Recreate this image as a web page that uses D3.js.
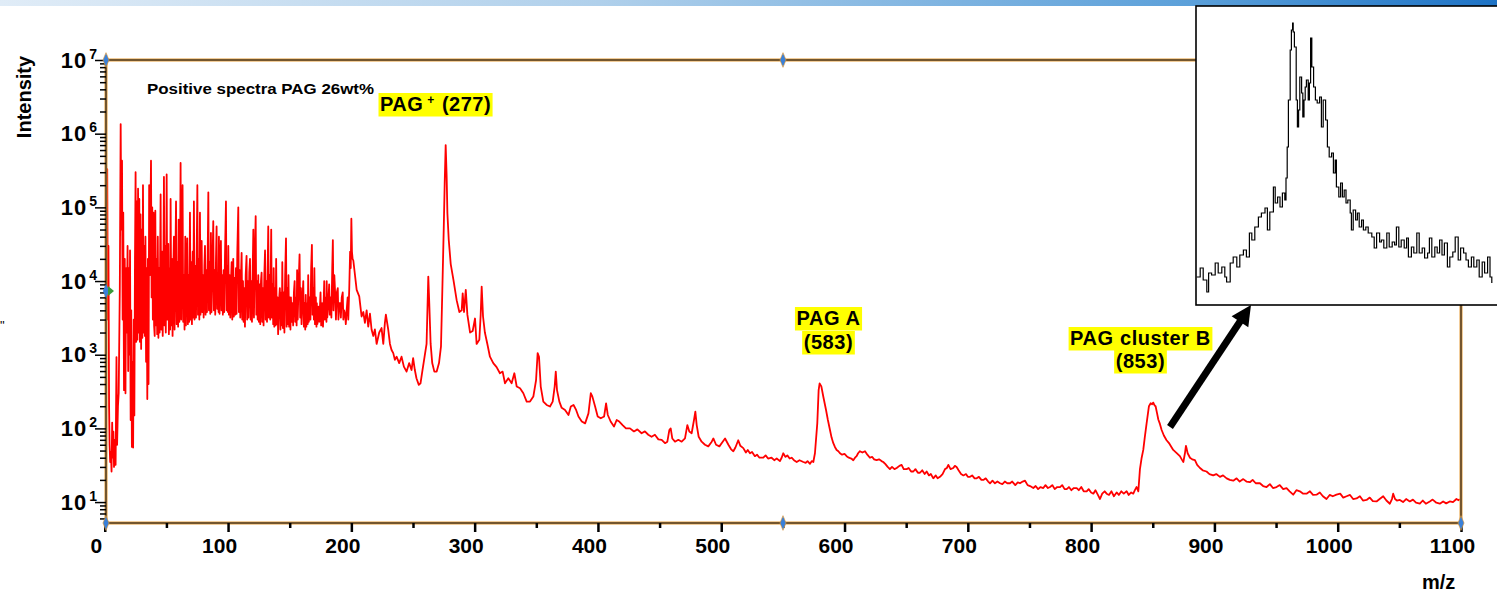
<!DOCTYPE html>
<html lang="en">
<head>
<meta charset="UTF-8" />
<title>Positive spectra PAG 26wt%</title>
<script src="https://d3js.org/d3.v7.min.js"></script>
<style>
  html, body { margin: 0; padding: 0; background: #fff; }
  svg { display: block; }
  text { font-family: "Liberation Sans", Arial, sans-serif; font-weight: bold; fill: #000; }
</style>
</head>
<body>
<div id="chart"></div>
<script>
// [m/z, intensity]
const lowMass = [
  [1.2, 2e4], [2.0, 3.3e5], [2.5, 3e3], [3.0, 3e4], [3.5, 200], [3.9, 60], [4.4, 35], [5.0, 48], [5.5, 26],
  [6.0, 120], [6.5, 40], [7.0, 90], [7.5, 30], [8.2, 70], [8.8, 32], [9.5, 930], [10.0, 60], [10.7, 200],
  [11.3, 300], [12.2, 8e3], [12.9, 1.35e6], [13.4, 5e4], [14.0, 4.3e5], [14.5, 3e3], [15.0, 8.5e4],
  [15.6, 330], [16.2, 2e4], [16.8, 300], [17.3, 1.5e4], [17.8, 2e3], [18.5, 3e4], [19.0, 600], [19.5, 1.5e4],
  [20.0, 1e3], [20.5, 2.6e4], [21.0, 130], [21.5, 4e3], [22.0, 56], [22.5, 800], [23.0, 55], [23.5, 3e3],
  [24.0, 150], [24.5, 2e4], [25.0, 3e5], [25.5, 1.5e3], [26.0, 1.2e5], [26.5, 1.6e3], [27.0, 1.8e5],
  [27.5, 2e3], [28.0, 1.3e5], [28.5, 1.5e3], [29.0, 8e4], [29.5, 1.2e3], [30.0, 5e4], [30.5, 1.7e3],
  [31.0, 2e5], [31.5, 2e3], [32.0, 3e4], [32.5, 1.8e3], [33.0, 4e4], [33.5, 800], [34.0, 1.5e4], [34.5, 250],
  [35.0, 2e4], [35.5, 400], [36.0, 2e5], [36.5, 1.2e4], [37.5, 4.3e5], [38.0, 6e3], [38.5, 1e5], [39.0, 3e3],
  [39.5, 8.5e4], [40.0, 2.5e3]
];

const midMass = [
  [40.5, 1.8e3], [41, 9e4], [41.5, 2.5e3], [42, 2e4], [42.5, 1.9e3], [43, 4e4], [43.5, 1.7e3], [44, 1.5e4],
  [44.5, 2e3], [45.3, 1.5e5], [45.8, 2.2e3], [46.5, 2.5e4], [47, 1.8e3], [47.5, 1.2e4], [48, 2.6e5],
  [48.5, 2.5e3], [49, 3e4], [49.5, 2e3], [50.2, 2.8e5], [50.7, 3e3], [51.5, 3.2e4], [52, 1.9e3], [52.5, 1.5e4],
  [53, 2.2e3], [53.4, 1.3e5], [54, 2.5e3], [54.5, 2e4], [55, 1.8e3], [55.5, 1.2e4], [56.1, 4e4], [56.6, 2.2e3],
  [57.2, 1.5e4], [57.8, 1.2e5], [58.3, 2.6e3], [59, 1.8e4], [59.5, 2.4e3], [59.9, 6.8e4], [60.5, 2.8e3],
  [61, 1.5e4], [61.5, 4e5], [62, 3e3], [62.5, 2.5e4], [63.1, 2e5], [63.6, 2.8e3], [64.2, 1.2e4], [64.7, 2.2e3],
  [65.3, 4e4], [65.8, 2.5e3], [66.4, 1.5e4], [66.9, 3.8e4], [67.4, 2.6e3], [68, 1.2e4], [68.5, 2.8e3],
  [69.1, 8.5e4], [69.6, 3e3], [70.2, 1.8e4], [70.7, 2.6e3], [71.3, 2.5e4], [71.8, 3.2e3], [72.3, 1.2e5],
  [72.8, 3e3], [73.5, 1.6e4], [74, 3.2e3], [74.6, 2.8e4], [75.1, 2e5], [75.6, 3.5e3], [76.2, 2e4], [76.7, 3e3],
  [77.2, 8.5e4], [77.7, 3.5e3], [78.2, 1.5e4], [78.6, 3.5e4], [79.1, 3.8e3], [79.7, 1.2e4], [80.2, 3.2e3],
  [80.8, 1.6e4], [81.3, 3e4], [81.8, 3.5e3], [82.4, 1.4e4], [82.9, 3.8e3], [83.5, 2.5e4], [84, 1.6e5],
  [84.5, 4e3], [85.1, 1.8e4], [85.6, 3.6e3], [86.1, 4.5e4], [86.6, 3.8e3], [87.3, 1.5e4], [88, 6.5e4],
  [88.5, 4e3], [89.1, 1.4e4], [89.6, 3.5e3], [90.2, 2e4], [90.7, 5.5e4], [91.2, 4.2e3], [91.8, 1.2e4],
  [92.3, 3.8e3], [92.6, 4e4], [93.1, 3.6e3], [93.7, 1.5e4], [94.2, 3.5e4], [94.7, 4e3], [95.3, 1.2e4],
  [95.8, 3.5e3], [96.4, 1.4e4], [96.9, 3.8e3], [97.5, 2.2e4], [98.3, 1.2e5], [98.8, 4e3], [99.4, 1.6e4],
  [99.9, 3.8e3], [100.2, 3e4], [100.7, 3.5e3], [101.3, 1.2e4], [101.8, 3.2e3], [102.4, 1e4], [102.9, 1.8e4],
  [103.4, 3e3], [104.2, 2e4], [104.7, 3.3e3], [105.3, 1.1e4], [105.8, 3.5e3], [106.4, 1.5e4], [106.9, 3.6e3],
  [107.5, 2.5e4], [108.3, 1e5], [108.8, 3.8e3], [109.4, 1.4e4], [109.9, 3.2e3], [110.5, 1.2e4], [111, 2.4e4],
  [111.5, 3e3], [112.1, 1e4], [112.6, 2.8e3], [113.2, 8e3], [113.7, 2.4e3], [114.3, 1.2e4], [115, 2.2e4],
  [115.5, 3e3], [116.1, 1e4], [116.6, 3.2e3], [117.2, 1.3e4], [117.8, 2e4], [118.3, 3e3], [118.9, 1e4],
  [119.4, 2.8e3], [120, 1.5e4], [120.5, 5e4], [121, 3.2e3], [121.6, 1.8e4], [122.4, 7.6e4], [122.9, 3.5e3],
  [123.5, 1e4], [124, 3e3], [124.5, 1.2e4], [125, 2.8e3], [125.6, 9e3], [126.1, 2.6e3], [126.7, 1e4],
  [127.2, 1.3e4], [127.7, 2.8e3], [128.3, 8e3], [128.8, 2.5e3], [129.4, 1.2e4], [130, 2.6e4], [130.5, 3e3],
  [131.1, 1e4], [131.6, 2.8e3], [132.1, 1.4e4], [132.6, 5.5e4], [133.1, 3.2e3], [133.7, 1.2e4], [134.2, 3e3],
  [135, 5e4], [135.5, 3.2e3], [136.1, 9e3], [136.6, 2.6e3], [137, 1.5e4], [137.5, 2.4e3], [138.1, 8e3],
  [138.6, 2.5e3], [139, 2e4], [139.5, 2.6e3], [140.1, 6e3], [140.6, 1.9e3], [141.2, 5e3], [142, 8e3],
  [142.5, 2.2e3], [143.1, 7e3], [143.6, 2.5e3], [144, 1.8e4], [144.5, 2.3e3], [145.2, 7e3], [145.7, 2e3],
  [146.3, 1.2e4], [147, 3.8e4], [147.5, 2.4e3], [148.1, 8e3], [148.6, 2.6e3], [149, 1.2e4], [149.5, 2.4e3],
  [150.1, 6e3], [150.6, 2.2e3], [151, 6e3], [151.5, 2.8e3], [152.2, 5e3], [152.8, 2.5e3], [153.4, 7e3],
  [154, 1e4], [154.5, 2.8e3], [155.1, 6e3], [155.6, 2.5e3], [156, 1.4e4], [156.5, 3e3], [157.2, 9e3],
  [158, 2.3e4], [158.5, 3.2e3], [159.1, 8e3], [159.6, 2.6e3], [160.2, 5e3], [161, 1e4], [161.5, 2.4e3],
  [162.1, 5e3], [162.6, 2.2e3], [163, 6.5e3], [163.5, 2.4e3], [164.1, 5e3], [164.6, 2.6e3], [165, 1.2e4],
  [165.5, 2.8e3], [166.2, 6e3], [166.8, 3e3], [167.4, 1.5e4], [168, 3.1e4], [168.5, 3.5e3], [169.1, 8e3],
  [169.6, 3e3], [170, 1.5e4], [170.5, 2.6e3], [171.2, 6e3], [171.7, 2.4e3], [172, 5e3], [172.5, 2.6e3],
  [173.3, 4.5e3], [174, 2.8e3], [175, 7e3], [175.5, 2.5e3], [176.3, 5e3], [177, 2.4e3], [178, 1e4],
  [178.5, 3e3], [179.3, 6e3], [179.8, 2.8e3], [180, 1e4], [180.5, 3.2e3], [181.3, 5e3], [182, 9e3],
  [182.5, 3.5e3], [183.3, 6e3], [183.8, 3.2e3], [184.5, 1.5e4], [185, 3.6e4], [185.5, 4e3], [186.2, 1.2e4],
  [187, 6e3], [187.5, 3e3], [188.2, 7e3], [189, 8e3], [189.5, 3e3], [190.2, 5e3], [191, 5e3], [191.5, 3.2e3],
  [192.2, 6e3], [193, 7e3], [193.5, 3e3], [194.2, 4e3], [195, 3.5e3], [195.5, 2.6e3], [196.2, 4e3],
  [197, 6e3], [197.5, 3e3], [198.3, 8e3], [199, 2.5e4], [199.5, 1.5e4], [200, 7e4], [200.5, 2.5e4], [201, 2e4]
];

const highMass = [
  [201.6, 1.9e4], [204.3, 7.6e3], [206.4, 6.2e3], [208.3, 3.3e3], [209.7, 3.8e3], [211, 2.7e3], [212.4, 4e3],
  [213.7, 2.4e3], [215.1, 3.6e3], [216.4, 2.2e3], [217.8, 1.8e3], [219.1, 2.2e3], [220.5, 1.4e3], [222.6, 2e3],
  [224.5, 2.3e3], [225.9, 1.4e3], [227.2, 2.7e3], [228, 3.5e3], [229.9, 2.2e3], [231.3, 1.4e3], [232.6, 1.16e3],
  [234, 1.05e3], [235.3, 850], [236.7, 940], [238.8, 770], [240.7, 940], [242.6, 690], [244.8, 590],
  [246.9, 770], [248.8, 620], [250.1, 900], [251.5, 620], [252.8, 480], [254.7, 390], [256.1, 410],
  [257.7, 620], [259.4, 940], [261, 1.4e3], [262.4, 1.15e4], [263.2, 5e3], [264.3, 1.4e3], [265.6, 770],
  [267.3, 590], [269.2, 590], [271.1, 770], [272.7, 1.3e3], [273.8, 7.6e3], [274.9, 4.9e4], [275.7, 2.1e5],
  [276.5, 7e5], [277.3, 2.6e5], [277.9, 8.3e4], [279, 3.6e4], [280.6, 1.7e4], [282.8, 1.04e4], [285.4, 5.5e3],
  [287.6, 3.8e3], [289.5, 4e3], [290.3, 6.8e3], [291.4, 3.8e3], [292.8, 7.6e3], [294.1, 3.5e3], [296.3, 2e3],
  [298.4, 2.1e3], [300.3, 3.1e3], [301.6, 1.4e3], [303.8, 1.6e3], [304.9, 3.5e3], [305.7, 8.4e3],
  [306.8, 3.3e3], [308.3, 2e3], [310.3, 1.4e3], [312.4, 940], [315.1, 770], [317.8, 680], [320.5, 560],
  [322.7, 590], [324.6, 410], [327.3, 480], [330, 410], [332.2, 560], [334.1, 370], [336.8, 350], [339.5, 300],
  [342.2, 231], [344.9, 231], [347.6, 270], [349.8, 450], [351.1, 1.05e3], [352.2, 940], [353.6, 370],
  [355.7, 231], [358.4, 208], [361.1, 198], [363.3, 231], [364.9, 370], [365.8, 590], [366.8, 330],
  [368.7, 231], [370.6, 190], [373.3, 178], [376.1, 152], [378, 198], [380.2, 208], [382.3, 178], [384.2, 145],
  [386.9, 124], [389.6, 117], [392.3, 160], [394.2, 300], [395.5, 270], [397.7, 198], [399.8, 145],
  [402.3, 137], [405, 145], [406.6, 219], [408, 152], [410.3, 124], [413, 106], [415.2, 130], [417.3, 124],
  [420, 111], [422.7, 100], [426, 100], [429.2, 91], [432, 97], [435.4, 86], [438.1, 91], [440.8, 82],
  [443.5, 77], [446.2, 82], [449, 71], [451.7, 70], [454.4, 63], [456.3, 66], [457.9, 95], [459, 100],
  [460.3, 73], [462.5, 66], [465.2, 70], [467.9, 66], [470.6, 73], [472.5, 111], [474.1, 91], [476, 86],
  [477.9, 130], [479, 169], [480.1, 111], [481.7, 77], [484.1, 66], [486.8, 60], [489.5, 57], [492.3, 66],
  [493.6, 73], [495.8, 60], [498.5, 57], [501.2, 66], [503.1, 73], [505.8, 60], [508, 52], [509.8, 49],
  [511.5, 55], [513.8, 69], [515.5, 58], [517.9, 54], [520, 47], [521.5, 51], [523.3, 46], [525, 48],
  [527.3, 42], [529, 44], [531, 40], [534.1, 40], [536, 43], [538, 39], [540.8, 40], [543, 37], [545, 39],
  [547.6, 36], [549, 40], [550.3, 46], [552, 41], [553.6, 43], [555.5, 39], [557.1, 40], [559, 37],
  [561.2, 35], [563.5, 37], [566.6, 35], [568.5, 34], [570, 36], [572, 33], [573.5, 36], [574.7, 35],
  [576, 46], [577.9, 117], [579, 331], [579.8, 407], [581.2, 372], [582.8, 269], [585, 178], [586.5, 130],
  [588.2, 95], [589.5, 75], [590.9, 63], [592.2, 56], [593.6, 51], [595, 49], [596.3, 46], [598, 44],
  [600, 45], [601.7, 42], [603.5, 40], [605.5, 39], [607.1, 37], [608.5, 40], [609.8, 42], [611, 46],
  [612.5, 49], [614.5, 47], [616.6, 49], [618.5, 44], [620.6, 40], [622.5, 41], [624, 38], [626, 37],
  [628, 38], [630, 36], [631.4, 35], [633, 33], [635, 30], [636.8, 28], [638.5, 30], [640.5, 28], [642.3, 29],
  [644.5, 31], [646.3, 32], [648, 28], [650.4, 28], [652, 29], [654, 26], [655.8, 26], [657.5, 28],
  [659.5, 25], [661.2, 25], [663, 27], [665, 24], [666.6, 26], [668.5, 23], [670, 24], [672, 21], [674, 23],
  [675.5, 21], [677.4, 22], [679.5, 24], [681.5, 28], [683, 29], [684.2, 32], [686, 28], [688.2, 29],
  [689.5, 31], [690.9, 30], [692.5, 27], [694.5, 24], [696.4, 23], [698.5, 24], [700, 22], [701.8, 22],
  [703.5, 23], [705.5, 21], [707.2, 21], [709, 22], [711, 20], [712.6, 20], [714.5, 21], [716.5, 19],
  [718, 18], [720, 19.5], [722, 18], [724, 19], [726.1, 18], [728, 17.5], [730, 19], [732, 18], [734.2, 18],
  [736, 19], [738.5, 17], [740.5, 18.5], [742.3, 18], [744.5, 19], [746.4, 19.5], [748.5, 17], [750.5, 16.5],
  [753.1, 15.5], [755, 16.5], [757, 15], [759, 16], [761.2, 15.5], [763, 17], [765, 15.5], [766.7, 16],
  [768.5, 17], [770.5, 15], [772.5, 16], [774.8, 16], [776.5, 17], [778.5, 15], [780.2, 15], [782, 16],
  [784, 14.5], [786, 15.5], [788.3, 15.5], [790, 14.5], [792, 16], [794, 14], [796.4, 14], [798, 15],
  [800, 13.5], [801.8, 13], [803.5, 14.5], [805.5, 12.5], [807.2, 11], [809, 13], [811, 14], [812.6, 13],
  [814.5, 12.5], [816.5, 14], [818.5, 12], [820.7, 13.5], [822.5, 12.5], [824.5, 14], [826.5, 13],
  [828.8, 14], [830.5, 12.5], [832.5, 13.5], [834.2, 13], [835.5, 14.5], [836.9, 16], [838.3, 14],
  [839.6, 28], [841, 40], [842.3, 51], [843.5, 75], [845, 117], [846.9, 200], [848.3, 219], [849.5, 212],
  [850.4, 224], [851.5, 205], [852.3, 200], [853.5, 160], [854.5, 132], [855.8, 115], [857.2, 95], [859, 80],
  [861.2, 69], [863.5, 62], [866.6, 51], [869, 47], [872, 42], [873.5, 38], [874.8, 35], [876.1, 46],
  [876.9, 58], [877.6, 52], [878.3, 46], [880.2, 40], [882, 38], [884.2, 37], [886, 32], [888.3, 29],
  [890.5, 27], [893.6, 26], [896, 24], [899, 23], [901.5, 24], [904.5, 22], [907, 23], [909.9, 21],
  [912.5, 20], [915.3, 19.5], [918, 21], [920.5, 19], [923.4, 20.5], [926, 19], [928.8, 18.6], [931, 20],
  [933.5, 18], [936.9, 18], [939.5, 16.5], [942.3, 16], [945, 17.5], [947.5, 15.5], [950.4, 16], [953, 17],
  [955.8, 15], [958.5, 15.5], [961, 14], [963.9, 12.6], [966.5, 14.5], [969.3, 14], [972, 13], [974.7, 13],
  [977.5, 14], [980, 12.5], [982.8, 12.6], [985.5, 13.5], [988, 12], [990.9, 11], [993.5, 12.5], [996, 12],
  [999, 12.6], [1002, 13], [1004.5, 11.5], [1007.2, 12], [1010, 12.5], [1012.5, 11], [1015.3, 11.2],
  [1018, 12], [1020.5, 10.5], [1023.4, 10.7], [1026, 11.5], [1028.5, 10.3], [1031.5, 10.2], [1034, 11],
  [1036.9, 12], [1039.5, 10.5], [1042.3, 9.5], [1044, 11], [1045, 13], [1046.5, 11], [1048, 10.5],
  [1050.4, 10.7], [1053, 10], [1055.5, 11], [1058.5, 10.2], [1061, 10.8], [1063.5, 9.8], [1066.6, 9.5],
  [1069, 10.5], [1071.5, 9.5], [1074.7, 10.2], [1077, 10.8], [1080, 9.8], [1082.8, 9.5], [1085.5, 10.2],
  [1088, 9.6], [1090.9, 10.2], [1093.5, 10], [1096.3, 11], [1098, 10.6], [1099, 11]
];

// inset: zoom on the cluster B peak, [m/z, counts]
const insetTrace = [
  [825.1, 28], [825.7, 37], [826.2, 25], [826.8, 13], [827.1, 32], [827.6, 30], [828.2, 42], [828.7, 32],
  [829.3, 38], [829.8, 28], [830.1, 23], [830.7, 42], [831.2, 48], [831.8, 38], [832.3, 50], [832.9, 55],
  [833.4, 48], [833.9, 72], [834.3, 65], [834.8, 78], [835.4, 88], [835.9, 92], [836.5, 97], [836.9, 75],
  [837.3, 93], [837.9, 118], [838.2, 102], [838.6, 108], [839.0, 98], [839.4, 112], [839.8, 105], [840.0, 127],
  [840.2, 158], [840.4, 205], [840.7, 255], [840.9, 275], [841.1, 282], [841.2, 273], [841.4, 258],
  [841.7, 205], [841.9, 178], [842.1, 195], [842.3, 228], [842.6, 212], [842.8, 188], [843.0, 205],
  [843.2, 218], [843.4, 225], [843.7, 205], [843.9, 222], [844.1, 267], [844.3, 238], [844.6, 218],
  [844.9, 205], [845.2, 202], [845.6, 208], [845.9, 178], [846.2, 205], [846.6, 185], [846.9, 158],
  [847.2, 148], [847.6, 152], [847.9, 132], [848.2, 145], [848.4, 118], [848.8, 108], [849.1, 122],
  [849.4, 108], [849.7, 115], [850.0, 102], [850.3, 105], [850.7, 92], [850.9, 75], [851.2, 95], [851.6, 85],
  [851.9, 92], [852.2, 78], [852.6, 85], [852.9, 75], [853.3, 78], [853.7, 72], [854.3, 68], [854.7, 57],
  [855.1, 72], [855.6, 63], [855.9, 65], [856.3, 57], [856.8, 72], [857.2, 58], [857.7, 63], [858.1, 60],
  [858.4, 78], [858.8, 58], [859.2, 65], [859.7, 57], [860.1, 67], [860.4, 48], [860.9, 58], [861.3, 52],
  [861.8, 72], [862.2, 52], [862.7, 57], [863.1, 47], [863.6, 52], [863.9, 67], [864.3, 48], [864.8, 58],
  [865.2, 52], [865.6, 65], [866.0, 50], [866.4, 62], [866.9, 38], [867.3, 48], [867.8, 53], [868.2, 68],
  [868.7, 45], [869.1, 57], [869.6, 52], [870.0, 45], [870.4, 38], [870.9, 48], [871.3, 38], [871.8, 45],
  [872.2, 28], [872.7, 43], [873.1, 32], [873.6, 48], [874.0, 28], [874.3, 22]
];

const xTicks = d3.range(0, 1101, 100);
const xMinorTicks = d3.range(50, 1100, 100);
const yDecades = [1e1, 1e2, 1e3, 1e4, 1e5, 1e6, 1e7];
const yMinorTicks = d3.range(0, 7).flatMap(k => d3.range(2, 10).map(m => m * Math.pow(10, k))).filter(v => v > 5.2 && v < 1e7);

const titleText = "Positive spectra PAG 26wt%";
const peakNames = ["PAG A", "PAG cluster B"];
const peakMasses = ["(583)", "(853)"];

const width = 1497, height = 595;
const svg = d3.select("#chart").append("svg").attr("width", width).attr("height", height);
const defs = svg.append("defs");

// header band
const grad = defs.append("linearGradient").attr("id", "band");
grad.selectAll("stop")
  .data([[0, "#e0ecf7"], [0.4, "#b0d0eb"], [0.8, "#5a9fd9"], [1, "#1e73c5"]])
  .join("stop").attr("offset", d => d[0]).attr("stop-color", d => d[1]);
svg.append("rect").attr("width", width).attr("height", 6).attr("fill", "url(#band)");

const x = d3.scaleLinear().domain([1, 1100]).range([106, 1461]);
const y = d3.scaleLog().domain([5.2, 1e7]).range([523, 60]);
const [pL, pR] = x.range();
const [pB, pT] = y.range();

defs.append("clipPath").attr("id", "plot")
  .append("rect").attr("x", pL).attr("y", pT).attr("width", pR - pL).attr("height", pB - pT);

// spectrum
const spectrum = lowMass.concat(midMass, highMass);
svg.append("path")
  .datum(spectrum)
  .attr("clip-path", "url(#plot)")
  .attr("fill", "none")
  .attr("stroke", "#ff0000")
  .attr("stroke-width", 1.8)
  .attr("stroke-linejoin", "round")
  .attr("d", d3.line().x(d => x(d[0])).y(d => y(d[1])));

// frame
svg.append("rect").attr("x", pL).attr("y", pT).attr("width", pR - pL).attr("height", pB - pT)
  .attr("fill", "none").attr("stroke", "#e49a35").attr("stroke-width", 3);
svg.append("rect").attr("x", pL).attr("y", pT).attr("width", pR - pL).attr("height", pB - pT)
  .attr("fill", "none").attr("stroke", "#2a2a2a").attr("stroke-width", 1.2);

// x axis
const xAxis = svg.append("g").attr("transform", `translate(0,${pB})`)
  .call(d3.axisBottom(x).tickValues(xTicks).tickSize(9).tickFormat(d3.format("d")));
xAxis.select(".domain").remove();
xAxis.selectAll(".tick line").attr("stroke", "#000").attr("stroke-width", 2.5);
xAxis.selectAll(".tick text").attr("x", -9).attr("y", 30).attr("dy", 0).style("font-size", "21px");

const xMinor = svg.append("g").attr("transform", `translate(0,${pB})`)
  .call(d3.axisBottom(x).tickValues(xMinorTicks).tickSize(5).tickFormat(""));
xMinor.select(".domain").remove();
xMinor.selectAll(".tick line").attr("stroke", "#000").attr("stroke-width", 2.5);

// y axis
const yAxis = svg.append("g").attr("transform", `translate(${pL},0)`)
  .call(d3.axisLeft(y).tickValues(yDecades).tickSize(11).tickFormat(""));
yAxis.select(".domain").remove();
yAxis.selectAll(".tick line").attr("stroke", "#000").attr("stroke-width", 1.5);
const yLab = yAxis.selectAll(".tick").append("text")
  .attr("x", -9).attr("y", 7).attr("text-anchor", "end").attr("fill", "#000");
yLab.append("tspan").style("font-size", "22px").style("letter-spacing", "1px").text("10");
yLab.append("tspan").style("font-size", "14px").attr("dx", 2).attr("dy", -9).text(d => Math.round(Math.log10(d)));

const yMinor = svg.append("g").attr("transform", `translate(${pL},0)`)
  .call(d3.axisLeft(y).tickValues(yMinorTicks).tickSize(6).tickFormat(""));
yMinor.select(".domain").remove();
yMinor.selectAll(".tick line").attr("stroke", "#000").attr("stroke-width", 1.5);

// axis titles
svg.append("text").attr("transform", "translate(31,97) rotate(-90)").attr("text-anchor", "middle")
  .style("font-size", "20px").text("Intensity");
svg.append("text").attr("x", 1422).attr("y", 589).style("font-size", "20px").text("m/z");
svg.append("text").attr("x", 0).attr("y", 330).style("font-size", "13px").style("font-weight", "normal")
  .attr("fill", "#555").text("\"");

// title
svg.append("text").attr("x", 147).attr("y", 94).style("font-size", "14.5px")
  .attr("textLength", 227).attr("lengthAdjust", "spacingAndGlyphs").text(titleText);

// selection handles
const handle = d3.symbol().type(d3.symbolDiamond).size(40);
[[pL, pT], [783, pT], [783, pB], [pL, pB], [pR, pB]].forEach(([hx, hy]) => {
  svg.append("path").attr("d", handle).attr("transform", `translate(${hx},${hy}) scale(0.9,1.25)`)
    .attr("fill", "#3a80d8").attr("stroke", "#e59a35").attr("stroke-width", 0.6);
});
svg.append("path").attr("d", handle).attr("transform", `translate(${pL},291) scale(0.9,1.25)`).attr("fill", "#3a80d8");
svg.append("path").attr("d", "M108,286 L114,291 L108,296 Z").attr("fill", "#3a9a3a");

// highlighted labels
function highlight(t) {
  const b = t.node().getBBox();
  svg.insert("rect", () => t.node())
    .attr("x", b.x - 1.5).attr("y", b.y).attr("width", b.width + 3).attr("height", b.height + 1.5)
    .attr("fill", "#ffff00");
}

const pagIon = svg.append("text").attr("x", 380).attr("y", 111).style("font-size", "20px")
  .style("letter-spacing", "0.5px");
pagIon.append("tspan").text("PAG");
pagIon.append("tspan").style("font-size", "12px").attr("dx", 4).attr("dy", -7).text("+");
pagIon.append("tspan").attr("dx", 7).attr("dy", 7).text("(277)");
highlight(pagIon);

[[828.5, 325, 349], [1140.5, 345, 368]].forEach(([cx, y1, y2], i) => {
  const a = svg.append("text").attr("x", cx).attr("y", y1).attr("text-anchor", "middle")
    .style("font-size", "20px").style("letter-spacing", "0.6px").text(peakNames[i]);
  const b = svg.append("text").attr("x", cx).attr("y", y2).attr("text-anchor", "middle")
    .style("font-size", "20px").style("letter-spacing", "0.6px").text(peakMasses[i]);
  highlight(b);
  highlight(a);
});

// inset
const ix = d3.scaleLinear().domain([825, 875]).range([1196, 1496]);
const iy = d3.scaleLinear().domain([0, 300]).range([305, 5]);
svg.append("rect").attr("x", 1196).attr("y", 6).attr("width", 320).attr("height", 299)
  .attr("fill", "#fff").attr("stroke", "#000").attr("stroke-width", 1.6);
svg.append("path")
  .datum(insetTrace)
  .attr("fill", "none")
  .attr("stroke", "#000")
  .attr("stroke-width", 1.2)
  .attr("d", d3.line().curve(d3.curveStepAfter).x(d => ix(d[0])).y(d => iy(d[1])));

// arrow to inset
const a0 = [1170, 427], a1 = [1251, 305];
const dx = a1[0] - a0[0], dy = a1[1] - a0[1], len = Math.hypot(dx, dy);
const ux = dx / len, uy = dy / len, head = 20, half = 10;
const bx = a1[0] - ux * head, by = a1[1] - uy * head;
svg.append("line").attr("x1", a0[0]).attr("y1", a0[1]).attr("x2", bx + ux * 2).attr("y2", by + uy * 2)
  .attr("stroke", "#000").attr("stroke-width", 7);
svg.append("path")
  .attr("d", `M${a1[0]},${a1[1]} L${bx - uy * half},${by + ux * half} L${bx + uy * half},${by - ux * half} Z`)
  .attr("fill", "#000");
</script>
</body>
</html>
